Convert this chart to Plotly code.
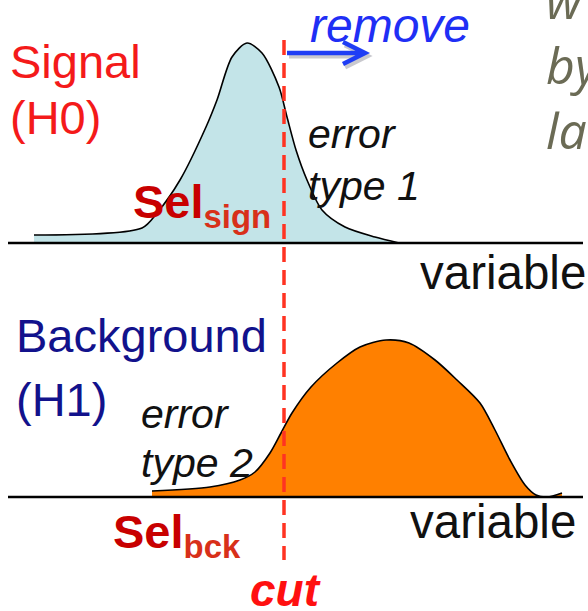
import plotly.graph_objects as go

# Signal (H0) density sampled along the discriminating variable
signal_x = [34, 142, 157, 180, 206, 217, 232, 247, 262, 279, 287, 296, 307, 322, 345, 375, 399]
signal_y = [8, 15, 30, 63, 116, 143, 186, 200, 190, 156, 126, 93, 63, 33, 16, 6, 0]

# Background (H1) density sampled along the same variable
bkg_x = [152, 210, 240, 255, 270, 281, 292, 311, 337, 360, 386, 409, 435, 457, 480, 495, 510, 525, 536, 547, 562]
bkg_y = [6, 10, 17, 25, 44, 64, 84, 110, 134, 150, 157, 154, 137, 117, 94, 67, 37, 12, 2, 0, 4]

# Cut position on the variable axis and the span of the variable axis
cut_value = 284
axis_start, axis_end = 8, 583

W, H = 588, 611
TOP0 = 243   # pixel row of the signal baseline
BOT0 = 497   # pixel row of the background baseline

FONT = "Liberation Sans, Arial, Helvetica, sans-serif"
SIDE_FONT = "Open Sans, Noto Sans, sans-serif"


def ty(py):
    """pixel row -> top-panel density units"""
    return TOP0 - py


def by_(py):
    """pixel row -> bottom-panel density units"""
    return BOT0 - py


fig = go.Figure()

# signal distribution
fig.add_trace(go.Scatter(
    x=signal_x, y=signal_y, mode="lines", fill="tozeroy",
    fillcolor="#c3e4e8", line=dict(color="black", width=1.6, shape="spline", smoothing=0.8),
    hoverinfo="skip", yaxis="y",
))

# background distribution
fig.add_trace(go.Scatter(
    x=bkg_x, y=bkg_y, mode="lines", fill="tozeroy",
    fillcolor="#ff8000", line=dict(color="black", width=1.6, shape="spline", smoothing=0.8),
    hoverinfo="skip", yaxis="y2",
))

shapes = [
    # baselines
    dict(type="line", xref="x", yref="y", x0=axis_start, x1=axis_end, y0=0, y1=0,
         line=dict(color="black", width=2.5)),
    dict(type="line", xref="x", yref="y2", x0=axis_start, x1=axis_end, y0=0, y1=0,
         line=dict(color="black", width=2.5)),
    # cut line
    dict(type="line", xref="x", yref="y", x0=cut_value, x1=cut_value, y0=ty(40), y1=ty(560),
         line=dict(color="#ff3322", width=3.5, dash="15px,8px")),
    # "remove" arrow: shadow then arrow
    dict(type="path", xref="x", yref="y",
         path=f"M {cut_value + 5},{ty(56)} L 367,{ty(56)} M 345,{ty(45)} L 367,{ty(56)} L 345,{ty(67)}",
         line=dict(color="rgba(40,40,60,0.25)", width=5)),
    dict(type="path", xref="x", yref="y",
         path=f"M {cut_value + 3},{ty(53)} L 365,{ty(53)} M 343,{ty(42)} L 365,{ty(53)} L 343,{ty(64)}",
         line=dict(color="#1f3df5", width=4.5)),
]

annotations = []


def label(text, x, y, yref, size, color, family=FONT):
    annotations.append(dict(
        text=text, x=x, y=y, xref="x", yref=yref, xanchor="left", yanchor="middle",
        align="left", showarrow=False, font=dict(family=family, size=size, color=color),
    ))


# top panel
label("Signal", 8, ty(61), "y", 47, "#f41a1a")
label("(H0)", 8, ty(117), "y", 47, "#f41a1a")
label("<i>remove</i>", 308, ty(25), "y", 48, "#1f2ff5")
label("<i>error</i>", 306, ty(134), "y", 41, "#111111")
label("<i>type 1</i>", 306, ty(186), "y", 41, "#111111")
label("variable", 418, ty(272), "y", 47.5, "#111111")
label("<b>Sel<sub><span style='color:#d8301a'>sign</span></sub></b>", 131, ty(205), "y", 47, "#c80000")

# partially visible grey italic lines at the right edge
label("<i>w<br>by<br>la</i>", 544, ty(65), "y", 50, "#6b6b55", SIDE_FONT)

# bottom panel
label("Background", 14, by_(335), "y2", 47, "#12128c")
label("(H1)", 14, by_(399), "y2", 47, "#12128c")
label("<i>error</i>", 139, by_(414), "y2", 41, "#111111")
label("<i>type 2</i>", 139, by_(463), "y2", 41, "#111111")
label("variable", 408, by_(521), "y2", 47.5, "#111111")
label("<b>Sel<sub><span style='color:#d8301a'>bck</span></sub></b>", 111, by_(535), "y2", 47, "#c80000")
label("<b><i>cut</i></b>", 248, by_(590), "y2", 46, "#ff1010")

fig.update_layout(
    width=W, height=H, margin=dict(l=0, r=0, t=0, b=0),
    paper_bgcolor="white", plot_bgcolor="white", showlegend=False,
    xaxis=dict(range=[0, W], visible=False, fixedrange=True),
    yaxis=dict(range=[TOP0 - H, TOP0], visible=False, fixedrange=True),
    yaxis2=dict(range=[BOT0 - H, BOT0], visible=False, overlaying="y", fixedrange=True),
    shapes=shapes, annotations=annotations,
)

fig.write_html("out.html", config={"displayModeBar": False})
